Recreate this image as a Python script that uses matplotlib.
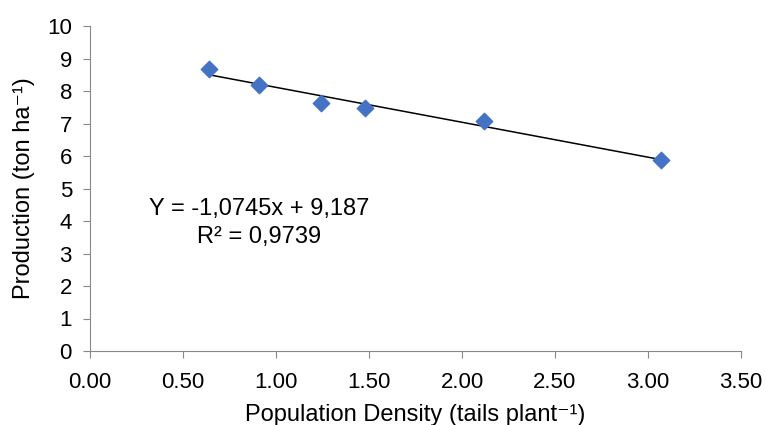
import numpy as np
import matplotlib.pyplot as plt

plt.rcParams['font.family'] = ['Liberation Sans', 'DejaVu Sans']

# data
density = [0.64, 0.91, 1.24, 1.48, 2.12, 3.07]
production = [8.68, 8.18, 7.63, 7.48, 7.08, 5.88]

# trend line coefficients shown on the chart
slope = -1.0745
intercept = 9.187
r2 = 0.9739

fig = plt.figure(figsize=(7.66, 4.25), dpi=100)
ax = fig.add_axes([90 / 766, 1 - 351 / 425, (741 - 90) / 766, (351 - 26) / 425])

xs = np.array([min(density), max(density)])
ax.plot(xs, slope * xs + intercept, color='black', lw=1.1, zorder=2)
ax.scatter(density, production, marker='D', s=70, color='#4472C4', zorder=3)

ax.set_xlim(0, 3.5)
ax.set_ylim(0, 10)
ax.set_xticks(np.arange(0, 3.51, 0.5))
ax.set_xticklabels([f"{v:.2f}" for v in np.arange(0, 3.51, 0.5)])
ax.set_yticks(range(0, 11))

for s in ['top', 'right']:
    ax.spines[s].set_visible(False)
for s in ['left', 'bottom']:
    ax.spines[s].set_color('#888888')
ax.tick_params(colors='#888888', labelcolor='black', labelsize=16, length=5)
ax.tick_params(axis='x', pad=10)
ax.tick_params(axis='y', pad=8)

ax.set_xlabel('Population Density (tails plant⁻¹)', fontsize=17, labelpad=8)
ax.set_ylabel('Production (ton ha⁻¹)', fontsize=17, labelpad=9)

eq = f"Y = {slope:.4f}x + {intercept:.3f}".replace('.', ',')
ax.text(0.91, 3.94, eq + "\n" + f"R² = {r2:.4f}".replace('.', ','),
        ha='center', va='center', fontsize=17, linespacing=1.4,
        multialignment='center')

plt.savefig("out.png")
